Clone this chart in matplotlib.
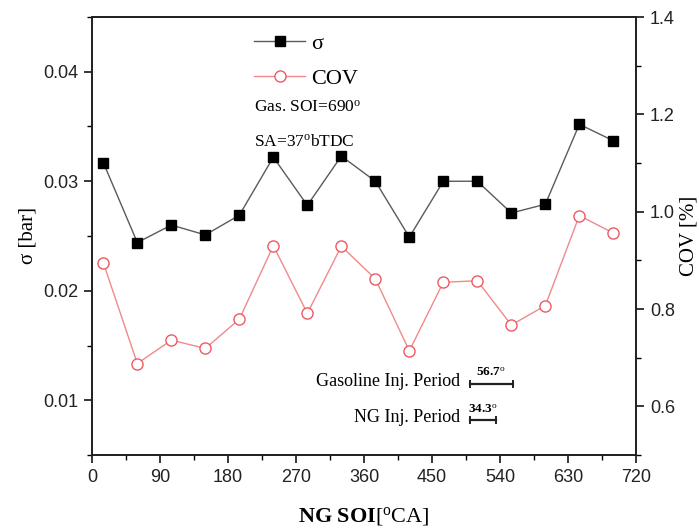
import matplotlib
matplotlib.use("Agg")
import matplotlib.pyplot as plt
from matplotlib.ticker import MultipleLocator

plt.rcParams['font.family'] = ['Liberation Serif', 'DejaVu Serif']
plt.rcParams['mathtext.fontset'] = 'custom'
plt.rcParams['mathtext.rm'] = 'Liberation Serif'
plt.rcParams['mathtext.it'] = 'Liberation Serif:italic'
plt.rcParams['mathtext.bf'] = 'Liberation Serif:bold'

# NG start of injection [deg CA]
ng_soi = [15, 60, 105, 150, 195, 240, 285, 330, 375, 420, 465, 510, 555, 600, 645, 690]
# standard deviation of pressure [bar]
sigma = [0.0317, 0.0244, 0.0260, 0.0251, 0.0269, 0.0322, 0.0278, 0.0323, 0.0300,
         0.0249, 0.0300, 0.0300, 0.0271, 0.0279, 0.0352, 0.0337]
# coefficient of variation [%]
cov = [0.895, 0.688, 0.736, 0.719, 0.779, 0.930, 0.791, 0.929, 0.862,
       0.714, 0.855, 0.858, 0.767, 0.807, 0.992, 0.956]

x_ticks = [0, 90, 180, 270, 360, 450, 540, 630, 720]
left_ticks = [0.01, 0.02, 0.03, 0.04]
right_ticks = [0.6, 0.8, 1.0, 1.2, 1.4]

gas_period = 56.7
ng_period = 34.3
period_start = 500

fig = plt.figure(figsize=(6.99, 5.29), dpi=100)
ax = fig.add_axes([92/699, 1 - 455/529, (636 - 92)/699, (455 - 17)/529])
ax2 = ax.twinx()

l1, = ax.plot(ng_soi, sigma, color='#5a5a5a', lw=1.0, marker='s', ms=6.5,
              mfc='black', mec='black', label='σ', zorder=3)
l2, = ax2.plot(ng_soi, cov, color='#f08a8a', lw=1.0, marker='o', ms=8,
               mfc='white', mec='#ec5a64', mew=1.0, label='COV', zorder=3)

ax.set_xlim(0, 720)
ax.set_ylim(0.005, 0.045)
ax2.set_ylim(0.5, 1.4)

ax.set_xticks(x_ticks)
ax.xaxis.set_minor_locator(MultipleLocator(45))
ax.set_yticks(left_ticks)
ax.yaxis.set_minor_locator(MultipleLocator(0.005))
ax2.set_yticks(right_ticks)
ax2.yaxis.set_minor_locator(MultipleLocator(0.1))
ax.set_yticklabels([f'{v:.2f}' for v in left_ticks])
ax2.set_yticklabels([f'{v:.1f}' for v in right_ticks])

for a in (ax, ax2):
    a.tick_params(which='major', direction='out', length=6, width=1.1,
                  labelsize=13, pad=4)
    a.tick_params(which='minor', direction='out', length=3.5, width=1.0)
    for lab in a.get_xticklabels() + a.get_yticklabels():
        lab.set_fontfamily('Liberation Sans')
        lab.set_color('#222222')
    for s in a.spines.values():
        s.set_linewidth(1.3)
        s.set_color('#222222')

ax.tick_params(axis='x', which='both', top=False)
ax.tick_params(axis='y', which='both', right=False)

ax.set_ylabel('σ [bar]', fontsize=15, labelpad=4)
ax2.set_ylabel('COV [%]', fontsize=15, labelpad=3)
ax.set_xlabel(r'$\mathbf{NG\ SOI}$[$^\mathrm{o}$CA]', fontsize=16, labelpad=14)

leg = ax2.legend(handles=[l1, l2], loc='upper left',
                 bbox_to_anchor=(254/699, 1 - 33/529), bbox_transform=fig.transFigure,
                 frameon=False, fontsize=16, handlelength=2.3, handletextpad=0.25,
                 labelspacing=0.68, borderpad=0, borderaxespad=0)

ax.text(0.298, 0.794, r'Gas. SOI=690$^\mathrm{o}$', transform=ax.transAxes,
        fontsize=12.5, ha='left', va='center')
ax.text(0.298, 0.714, r'SA=37$^\mathrm{o}$bTDC', transform=ax.transAxes,
        fontsize=12.5, ha='left', va='center')

# injection period scale bars
y_gas = 0.0115
y_ng = 0.0082
ax.plot([period_start, period_start + gas_period], [y_gas, y_gas], color='#222222',
        lw=1.6, marker='|', ms=6, mew=1.4)
ax.plot([period_start, period_start + ng_period], [y_ng, y_ng], color='#222222',
        lw=1.6, marker='|', ms=6, mew=1.4)
ax.text(period_start + gas_period / 2, y_gas + 0.0004, r'$\mathbf{56.7}^\mathrm{o}$',
        fontsize=9.5, ha='center', va='bottom')
ax.text(period_start + ng_period / 2, y_ng + 0.0004, r'$\mathbf{34.3}^\mathrm{o}$',
        fontsize=9.5, ha='center', va='bottom')
ax.text(period_start - 13, y_gas + 0.0002, 'Gasoline Inj. Period', fontsize=13,
        ha='right', va='center')
ax.text(period_start - 13, y_ng + 0.0002, 'NG Inj. Period', fontsize=13,
        ha='right', va='center')

fig.savefig('out.png', dpi=100)
